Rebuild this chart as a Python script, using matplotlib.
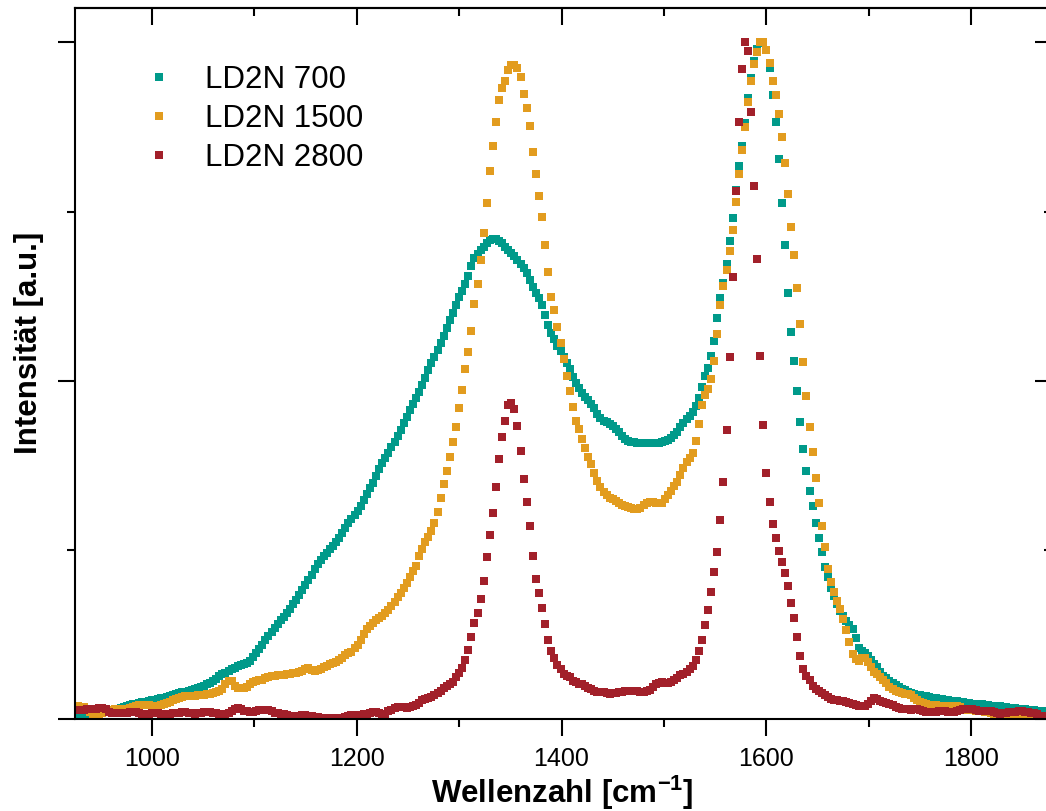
import numpy as np
import matplotlib
matplotlib.use("Agg")
import matplotlib.pyplot as plt
from matplotlib.ticker import MultipleLocator, NullFormatter

# Raman spectra, raw intensity in arbitrary units, sampled every 3 cm^-1 from 925 cm^-1
WN_START = 925.0
WN_STEP = 3.0

ld2n_700 = [
    3, 3, 3, 4, 4, 4, 4, 5, 6, 7,
    7, 8, 9, 9, 10, 11, 12, 13, 14, 15,
    15, 16, 17, 17, 18, 19, 19, 20, 21, 21,
    22, 23, 24, 25, 26, 27, 27, 28, 29, 30,
    31, 32, 33, 35, 36, 38, 40, 43, 45, 46,
    48, 50, 51, 53, 54, 55, 56, 58, 62, 66,
    70, 74, 79, 83, 87, 91, 95, 99, 102, 106,
    110, 115, 119, 124, 129, 134, 139, 144, 150, 155,
    159, 163, 166, 170, 173, 177, 181, 186, 191, 196,
    200, 204, 208, 213, 219, 225, 231, 236, 243, 250,
    256, 261, 266, 272, 277, 283, 289, 296, 302, 309,
    315, 321, 327, 334, 341, 349, 356, 362, 369, 376,
    383, 391, 399, 406, 414, 422, 428, 435, 443, 453,
    461, 465, 469, 472, 476, 479, 480, 480, 478, 476,
    472, 469, 466, 463, 459, 455, 451, 446, 439, 432,
    426, 421, 414, 404, 394, 386, 380, 373, 368, 362,
    356, 350, 342, 336, 331, 326, 322, 319, 315, 311,
    305, 301, 298, 297, 295, 293, 290, 287, 283, 280,
    278, 277, 277, 276, 276, 276, 276, 276, 276, 276,
    276, 277, 278, 279, 281, 284, 287, 292, 296, 300,
    303, 307, 313, 321, 332, 343, 351, 363, 378, 401,
    421, 436, 455, 478, 501, 529, 553, 573, 596, 621,
    641, 658, 670, 676, 677, 669, 651, 624, 597, 560,
    516, 474, 426, 387, 358, 328, 297, 270, 248, 228,
    213, 196, 181, 167, 152, 142, 131, 123, 115, 108,
    103, 98, 94, 90, 81, 71, 68, 66, 63, 59,
    55, 52, 47, 43, 41, 38, 36, 34, 32, 30,
    29, 27, 26, 25, 24, 24, 23, 23, 22, 21,
    21, 20, 20, 19, 19, 18, 18, 18, 17, 17,
    16, 16, 15, 15, 15, 15, 14, 14, 13, 13,
    13, 13, 12, 12, 11, 11, 11, 10, 10, 10,
    9, 9, 9, 8, 8, 8, 8,
]

ld2n_1500 = [
    13, 13, 12, 12, 10, 7, 5, 4, 5, 6,
    7, 8, 9, 10, 10, 10, 9, 10, 11, 12,
    13, 14, 14, 14, 14, 13, 13, 13, 14, 15,
    16, 17, 19, 20, 21, 22, 23, 23, 23, 23,
    24, 24, 24, 25, 25, 26, 27, 28, 30, 35,
    38, 38, 33, 31, 31, 31, 32, 35, 37, 38,
    39, 39, 41, 42, 43, 43, 44, 44, 44, 45,
    45, 46, 46, 47, 48, 50, 51, 49, 48, 49,
    50, 52, 53, 55, 56, 57, 59, 61, 64, 66,
    67, 71, 74, 79, 85, 90, 93, 96, 99, 101,
    103, 106, 109, 113, 117, 122, 126, 131, 136, 142,
    148, 153, 163, 170, 177, 182, 188, 196, 207, 221,
    235, 248, 262, 277, 292, 311, 329, 350, 367, 388,
    415, 435, 459, 486, 516, 548, 573, 597, 619, 631,
    638, 649, 654, 654, 651, 642, 625, 611, 593, 567,
    545, 523, 502, 474, 447, 422, 409, 392, 376, 360,
    343, 328, 312, 298, 290, 280, 271, 262, 255, 246,
    238, 232, 227, 224, 221, 220, 218, 216, 214, 213,
    212, 211, 210, 210, 211, 214, 216, 217, 217, 216,
    216, 216, 220, 224, 228, 233, 237, 244, 251, 257,
    261, 266, 278, 295, 314, 324, 330, 340, 358, 385,
    414, 433, 449, 468, 489, 517, 545, 569, 592, 617,
    638, 655, 667, 677, 677, 669, 656, 638, 624, 605,
    582, 556, 525, 492, 464, 431, 395, 357, 323, 292,
    267, 241, 216, 193, 172, 150, 137, 127, 118, 110,
    100, 89, 77, 65, 60, 58, 61, 61, 57, 52,
    47, 45, 42, 39, 36, 32, 30, 28, 27, 26,
    25, 25, 24, 21, 19, 17, 16, 15, 14, 14,
    14, 13, 13, 13, 13, 13, 13, 13, 12, 10,
    9, 9, 9, 8, 8, 8, 7, 7, 6, 5,
    5, 4, 4, 3, 3, 3, 3, 3, 3, 2,
    2, 2, 2, 2, 2, 2, 2,
]

ld2n_2800 = [
    9, 9, 9, 9, 10, 10, 10, 10, 11, 11,
    10, 7, 6, 6, 6, 6, 6, 6, 7, 7,
    7, 6, 5, 4, 5, 6, 6, 6, 5, 4,
    5, 5, 6, 6, 6, 7, 7, 6, 6, 5,
    6, 6, 7, 7, 7, 6, 6, 5, 5, 5,
    6, 8, 10, 11, 10, 8, 8, 7, 7, 8,
    9, 9, 9, 9, 8, 6, 6, 5, 5, 4,
    3, 3, 3, 3, 4, 4, 3, 3, 2, 2,
    1, 1, 1, 1, 1, 1, 1, 1, 2, 3,
    4, 4, 4, 4, 5, 5, 6, 7, 7, 6,
    5, 5, 8, 9, 11, 12, 12, 12, 11, 12,
    13, 14, 16, 19, 20, 21, 22, 24, 26, 28,
    31, 33, 35, 37, 42, 46, 51, 59, 69, 82,
    96, 106, 120, 138, 162, 184, 206, 232, 260, 282,
    298, 314, 316, 310, 293, 268, 240, 217, 193, 163,
    140, 126, 111, 95, 79, 68, 61, 54, 50, 45,
    43, 42, 38, 37, 35, 35, 33, 31, 30, 28,
    27, 27, 27, 26, 25, 26, 26, 27, 27, 28,
    28, 28, 28, 28, 27, 27, 28, 29, 32, 35,
    36, 37, 36, 36, 37, 39, 41, 44, 45, 47,
    50, 53, 59, 68, 79, 94, 109, 127, 147, 167,
    199, 237, 289, 362, 442, 528, 597, 650, 677, 668,
    607, 533, 460, 363, 294, 246, 217, 195, 181, 168,
    157, 146, 133, 116, 101, 82, 63, 50, 43, 39,
    33, 30, 28, 26, 24, 22, 20, 19, 19, 18,
    18, 17, 16, 15, 14, 13, 13, 13, 15, 18,
    21, 20, 18, 17, 16, 15, 14, 12, 11, 10,
    10, 10, 9, 10, 10, 9, 8, 7, 7, 7,
    7, 8, 8, 8, 7, 7, 7, 8, 9, 10,
    10, 10, 10, 9, 8, 8, 8, 8, 8, 7,
    6, 5, 6, 6, 7, 7, 7, 8, 8, 7,
    7, 6, 6, 5, 3, 3, 3,
]

series = [ld2n_700, ld2n_1500, ld2n_2800]
series_labels = ["LD2N 700", "LD2N 1500", "LD2N 2800"]
series_colors = ["#009A8A", "#E29C1F", "#A2202A"]

x_ticks_major = 200
x_ticks_minor = 100

plt.rcParams["font.family"] = ["Liberation Sans", "DejaVu Sans"]
plt.rcParams["mathtext.fontset"] = "custom"
plt.rcParams["mathtext.rm"] = "Liberation Sans"
plt.rcParams["mathtext.bf"] = "Liberation Sans:bold"

wavenumber = WN_START + WN_STEP * np.arange(len(ld2n_700))

fig = plt.figure(figsize=(10.46, 8.11), dpi=100)
ax = fig.add_axes([0.0717, 0.1131, 0.934, 0.8765])

for counts, label, color in zip(series, series_labels, series_colors):
    counts = np.asarray(counts, dtype=float)
    ax.plot(wavenumber, counts / counts.max(), linestyle="none", marker="s",
            markersize=5.8, markeredgewidth=0, color=color, label=label)

ax.set_xlim(925.2, 1878.6)
ax.set_ylim(0, 1.05)

spine_w = 1.5
for sp in ax.spines.values():
    sp.set_linewidth(spine_w)

ax.xaxis.set_major_locator(MultipleLocator(x_ticks_major))
ax.xaxis.set_minor_locator(MultipleLocator(x_ticks_minor))
ax.yaxis.set_major_locator(MultipleLocator(0.5))
ax.yaxis.set_minor_locator(MultipleLocator(0.25))
ax.yaxis.set_major_formatter(NullFormatter())
ax.tick_params(which="major", direction="out", length=12, width=spine_w,
               labelsize=18, pad=8, top=False, right=False)
ax.tick_params(which="minor", direction="out", length=6, width=spine_w,
               top=False, right=False)

# inward ticks on the top and right frame
secx = ax.secondary_xaxis("top")
secx.xaxis.set_major_locator(MultipleLocator(x_ticks_major))
secx.xaxis.set_minor_locator(MultipleLocator(x_ticks_minor))
secx.xaxis.set_major_formatter(NullFormatter())
secx.tick_params(which="major", direction="in", length=12, width=spine_w)
secx.tick_params(which="minor", direction="in", length=6, width=spine_w)
secx.spines["top"].set_linewidth(spine_w)

secy = ax.secondary_yaxis("right")
secy.yaxis.set_major_locator(MultipleLocator(0.5))
secy.yaxis.set_minor_locator(MultipleLocator(0.25))
secy.yaxis.set_major_formatter(NullFormatter())
secy.tick_params(which="major", direction="in", length=12, width=spine_w)
secy.tick_params(which="minor", direction="in", length=6, width=spine_w)
secy.spines["right"].set_linewidth(spine_w)

ax.set_xlabel(r"Wellenzahl [cm$^{\mathbf{-1}}$]", fontsize=22.5, fontweight="bold")
ax.set_ylabel("Intensität [a.u.]", fontsize=22.5, fontweight="bold")
ax.xaxis.set_label_coords(0.4985, -0.076)
ax.yaxis.set_label_coords(-0.032, 0.529)

ax.legend(loc="upper left", bbox_to_anchor=(0.070, 0.921), frameon=False,
          fontsize=22.5, handlelength=1.0, handletextpad=0.97, labelspacing=0.3,
          borderpad=0, borderaxespad=0, numpoints=1)

fig.savefig("out.png", dpi=100)
